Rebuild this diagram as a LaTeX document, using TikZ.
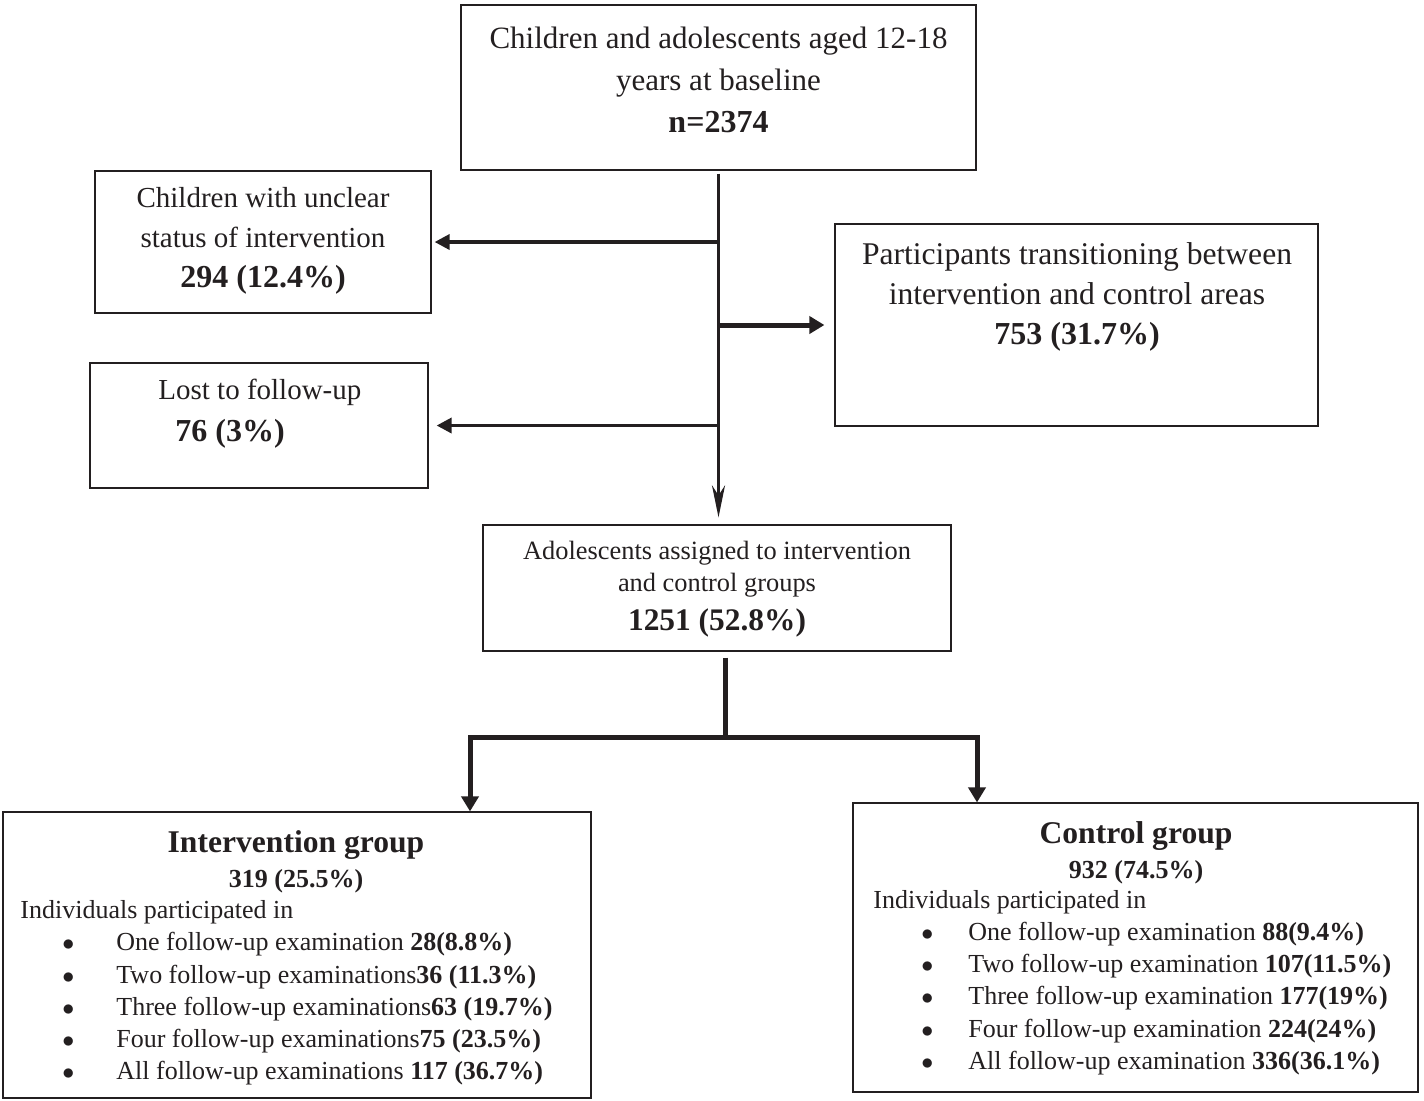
\documentclass[tikz,border=0pt]{standalone}
\usepackage{fontspec}
\setmainfont{Liberation Serif}
\usetikzlibrary{arrows.meta,positioning}

\definecolor{ink}{HTML}{231F20}
\newcommand{\bigdot}{$\bullet$}
\newcommand{\bitem}[3]{\hspace*{#1}\makebox[#2][l]{\bigdot}#3}

\begin{document}
\begin{tikzpicture}[x=0.5pt, y=-0.5pt,
	box/.style={draw=ink, line width=0.6pt, inner sep=0pt},
	lbl/.style={align=center, inner sep=0pt, text=ink},
	lst/.style={align=left, inner sep=0pt, text=ink, anchor=west},
	side/.style={draw=ink, line width=1.7pt, -{Triangle[length=7.5pt,width=7.5pt]}},
	wide/.style={draw=ink, line width=2.5pt, -{Triangle[length=7.5pt,width=8.5pt]}},
	trunk/.style={draw=ink, line width=1.5pt, -{Stealth[length=16pt,width=6.5pt,inset=5pt]}}
	]
	\useasboundingbox (0,0) rectangle (1424,1100);

	% boxes
	\node[box, minimum width=257.5pt, minimum height=82.5pt] (top) at (718.5,87.5) {};
	\node[box, minimum width=168pt, minimum height=71pt] (unclear) at (263,242) {};
	\node[box, minimum width=241.5pt, minimum height=101pt] (transit) at (1076.5,325) {};
	\node[box, minimum width=169pt, minimum height=62.5pt] (lost) at (259,425.5) {};
	\node[box, minimum width=234pt, minimum height=63pt] (assigned) at (717,588) {};
	\node[box, minimum width=294pt, minimum height=143pt] (interv) at (297,955) {};
	\node[box, minimum width=282.5pt, minimum height=144.5pt] (control) at (1135.5,947.5) {};

	% texts
	\node[lbl, font=\fontsize{15.5}{21}\selectfont] (toptxt) at (718.5,80)
		{Children and adolescents aged 12-18\\years at baseline\\{\fontsize{16}{21}\selectfont\bfseries n=2374}};
	\node[lbl, font=\fontsize{14.5}{20}\selectfont] (unclrtxt) at (263,241)
		{Children with unclear\\status of intervention\\{\fontsize{16}{20}\selectfont\bfseries 294 (12.4\%)}};
	\node[lbl, font=\fontsize{15.8}{20}\selectfont] (transtxt) at (1077,297)
		{Participants transitioning between\\intervention and control areas\\{\fontsize{16}{20}\selectfont\bfseries 753 (31.7\%)}};
	\node[lst, font=\fontsize{14.5}{21}\selectfont] (losttxt) at (158,414)
		{Lost to follow-up\\\hspace*{8.5pt}{\fontsize{16}{21}\selectfont\bfseries 76 (3\%)}};
	\node[lbl, font=\fontsize{13.2}{16}\selectfont] (assigntxt) at (717,589)
		{Adolescents assigned to intervention\\and control groups\\[3.5pt]{\fontsize{15.7}{16}\selectfont\bfseries 1251 (52.8\%)}};

	\node[lbl, font=\fontsize{15.8}{17.5}\selectfont\bfseries] (intervhead) at (296,862)
		{Intervention group\\{\fontsize{13}{17.5}\selectfont 319 (25.5\%)}};
	\node[lst, font=\fontsize{13}{16.1}\selectfont] (intervlist) at (20,993)
		{Individuals participated in\\
		\bitem{21pt}{27pt}{One follow-up examination \textbf{28(8.8\%)}}\\
		\bitem{21pt}{27pt}{Two follow-up examinations\textbf{36 (11.3\%)}}\\
		\bitem{21pt}{27pt}{Three follow-up examinations\textbf{63 (19.7\%)}}\\
		\bitem{21pt}{27pt}{Four follow-up examinations\textbf{75 (23.5\%)}}\\
		\bitem{21pt}{27pt}{All follow-up examinations \textbf{117 (36.7\%)}}};

	\node[lbl, font=\fontsize{15.8}{17.5}\selectfont\bfseries] (ctrlhead) at (1136,853)
		{Control group\\{\fontsize{13}{17.5}\selectfont 932 (74.5\%)}};
	\node[lst, font=\fontsize{13}{16.1}\selectfont] (ctrllist) at (873,982.5)
		{Individuals participated in\\
		\bitem{24pt}{23.5pt}{One follow-up examination \textbf{88(9.4\%)}}\\
		\bitem{24pt}{23.5pt}{Two follow-up examination \textbf{107(11.5\%)}}\\
		\bitem{24pt}{23.5pt}{Three follow-up examination \textbf{177(19\%)}}\\
		\bitem{24pt}{23.5pt}{Four follow-up examination \textbf{224(24\%)}}\\
		\bitem{24pt}{23.5pt}{All follow-up examination \textbf{336(36.1\%)}}};

	% connectors
	\coordinate (b1) at (top.south |- unclear.east);
	\coordinate (b2) at (top.south |- transit.west);
	\coordinate (b3) at (top.south |- lost.east);
	\draw[trunk, shorten <=1.5pt, shorten >=3.5pt] (top.south) -- (top.south |- assigned.north);
	\draw[side, shorten >=1.5pt] (b1) -- (unclear.east);
	\draw[wide, shorten >=5pt] (b2) -- (transit.west);
	\draw[side, shorten >=4pt] (b3) -- (lost.east);

	\coordinate (fork) at (725,737.5);
	\coordinate (ldrop) at (470,737.5);
	\coordinate (rdrop) at (977,737.5);
	\draw[draw=ink, line width=2.5pt, shorten <=3pt] (assigned.south -| fork) -- (fork);
	\draw[wide] (fork) -- (ldrop) -- (interv.north -| ldrop);
	\draw[wide] (fork) -- (rdrop) -- (control.north -| rdrop);
\end{tikzpicture}
\end{document}
